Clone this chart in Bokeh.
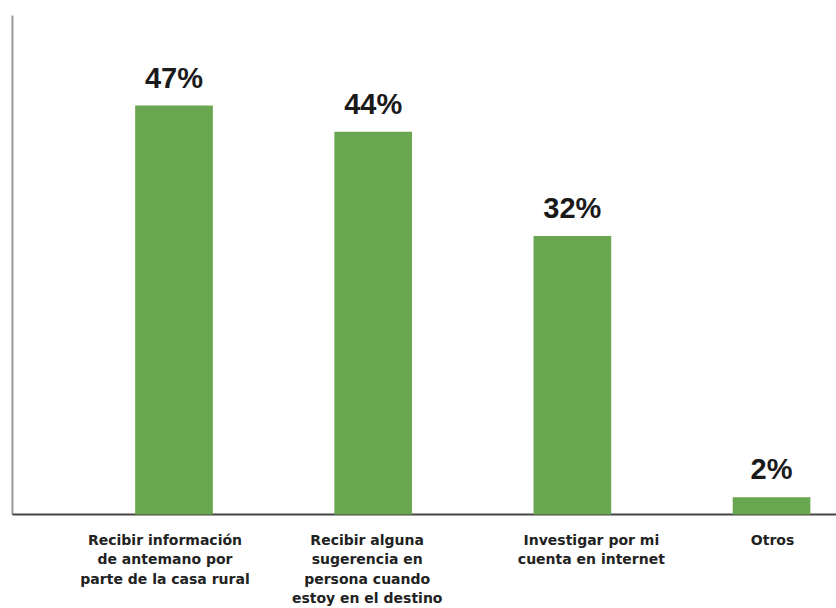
from bokeh.plotting import figure
from bokeh.models import ColumnDataSource, Range1d
from bokeh.core.properties import value
from bokeh.embed import file_html
from bokeh.resources import INLINE

categories = [
    "Recibir información\nde antemano por\nparte de la casa rural",
    "Recibir alguna\nsugerencia en\npersona cuando\nestoy en el destino",
    "Investigar por mi\ncuenta en internet",
    "Otros",
]
values = [47, 44, 32, 2]
value_labels = ["47%", "44%", "32%", "2%"]

# styling: horizontal nudge (px) of each category label, as in the original
label_dx = [-9, -6, 19, 1]

xs = list(range(len(categories)))
src = ColumnDataSource(dict(x=xs, top=values, label=value_labels,
                            cat=categories, base=[0] * len(xs), dx=label_dx))

# plot ranges (the frame spans the whole figure; axes drawn as lines)
X_MIN, X_MAX = -0.871, 3.326
Y_MIN, Y_MAX = -10.80, 59.08
AXIS_X = -0.811      # position of the vertical axis line
AXIS_TOP = 57.36     # top of the vertical axis line

p = figure(width=836, height=608, output_backend="svg", toolbar_location=None,
           x_range=Range1d(X_MIN, X_MAX), y_range=Range1d(Y_MIN, Y_MAX),
           x_axis_type=None, y_axis_type=None, min_border=0)
p.outline_line_color = None
p.grid.visible = False
p.background_fill_color = "white"
p.border_fill_color = "white"

# axis lines
p.segment(x0=[AXIS_X], y0=[0], x1=[AXIS_X], y1=[AXIS_TOP],
          line_color="#999999", line_width=2)
p.segment(x0=[AXIS_X], y0=[0], x1=[X_MAX], y1=[0],
          line_color="#444444", line_width=2)

p.vbar(x="x", top="top", width=0.39, bottom=0, source=src,
       fill_color="#68a74f", line_color=None)

p.text(x="x", y="top", text="label", source=src, text_align="center",
       text_baseline="bottom", y_offset=-12,
       text_font=value("Liberation Sans"), text_font_style="bold",
       text_font_size="29px", text_color="#1a1a1a")

p.text(x="x", y="base", text="cat", source=src, text_align="center",
       text_baseline="top", y_offset=17, x_offset="dx",
       text_font=value("DejaVu Sans"), text_font_style="bold",
       text_font_size="14px", text_color="#222222", text_line_height=1.22)

open("out.html", "w").write(file_html(p, INLINE))
